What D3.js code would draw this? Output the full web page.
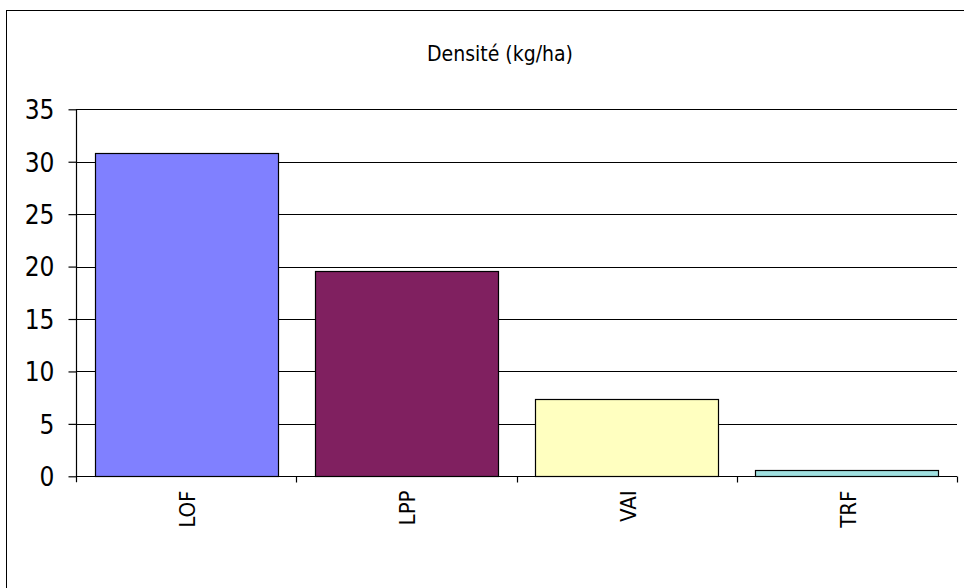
<!DOCTYPE html>
<html><head><meta charset="utf-8">
<script src="https://cdn.jsdelivr.net/npm/d3@7"></script>
<style>
html,body{margin:0;padding:0;background:#fff;}
svg{display:block;}
text{font-family:"DejaVu Sans Condensed","DejaVu Sans",sans-serif;fill:#000;}
</style></head>
<body>
<script>
const categories = ["LOF", "LPP", "VAI", "TRF"];
const values = [30.85, 19.55, 7.37, 0.6];
const colors = ["#8080FF", "#802060", "#FFFFC0", "#A0E0E0"];
const yTicks = [0, 5, 10, 15, 20, 25, 30, 35];
const title = "Densité (kg/ha)";

const W = 964, H = 588;
const svg = d3.select("body").append("svg").attr("width", W).attr("height", H);

// outer frame
svg.append("rect").attr("x", 6.5).attr("y", 10.5).attr("width", 1000).attr("height", 1000)
  .attr("fill", "none").attr("stroke", "#000").attr("stroke-width", 1);

const pLeft = 76, pRight = 957, pTop = 109.3, pBottom = 476.3;
const x = d3.scaleBand().domain(categories).range([pLeft, pRight]).paddingInner(0.17).paddingOuter(0.085);
const xb = d3.scaleBand().domain(categories).range([pLeft, pRight]);
const y = d3.scaleLinear().domain([0, 35]).range([pBottom, pTop]);

// gridlines
svg.append("g").selectAll("line").data(yTicks.filter(d => d > 0)).join("line")
  .attr("x1", pLeft).attr("x2", pRight)
  .attr("y1", d => Math.round(y(d)) + 0.5).attr("y2", d => Math.round(y(d)) + 0.5)
  .attr("stroke", "#000").attr("stroke-width", 1.2);

// bars
svg.append("g").selectAll("rect").data(categories).join("rect")
  .attr("x", d => Math.round(x(d)) + 0.5)
  .attr("width", Math.round(x.bandwidth()))
  .attr("y", (d, i) => Math.round(y(values[i])) + 0.5)
  .attr("height", (d, i) => Math.round(y(0)) - Math.round(y(values[i])))
  .attr("fill", (d, i) => colors[i])
  .attr("stroke", "#000").attr("stroke-width", 1.2);

// y axis
const yAxis = d3.axisLeft(y).tickValues(yTicks).tickSize(8).tickPadding(14);
const gy = svg.append("g").attr("transform", `translate(${pLeft + 0.5},0)`).call(yAxis);
gy.select(".domain").attr("d", `M0,${pTop}V${pBottom + 6}`).attr("stroke", "#000").attr("stroke-width", 1.2);
gy.selectAll(".tick line").attr("stroke", "#000").attr("stroke-width", 1.2);
gy.selectAll(".tick text").attr("font-size", 26).attr("font-family", null).attr("dy", "0.36em");

// x axis
const gx = svg.append("g").attr("transform", `translate(0,${Math.round(pBottom) + 0.5})`);
gx.append("line").attr("x1", pLeft).attr("x2", pRight).attr("stroke", "#000").attr("stroke-width", 1.2);
const tickXs = categories.map(c => xb(c) + xb.bandwidth());
gx.selectAll(".xt").data(tickXs).join("line").attr("class", "xt")
  .attr("x1", d => Math.round(d) + 0.5).attr("x2", d => Math.round(d) + 0.5)
  .attr("y1", 0).attr("y2", 6).attr("stroke", "#000").attr("stroke-width", 1.2);
gx.selectAll(".xl").data(categories).join("text").attr("class", "xl")
  .attr("transform", d => `translate(${xb(d) + xb.bandwidth() / 2 + 9},14) rotate(-90)`)
  .attr("text-anchor", "end").attr("font-size", 22).text(d => d);

// title
svg.append("text").attr("x", 500).attr("y", 61).attr("text-anchor", "middle")
  .attr("font-size", 21).text(title);
</script>
</body></html>
